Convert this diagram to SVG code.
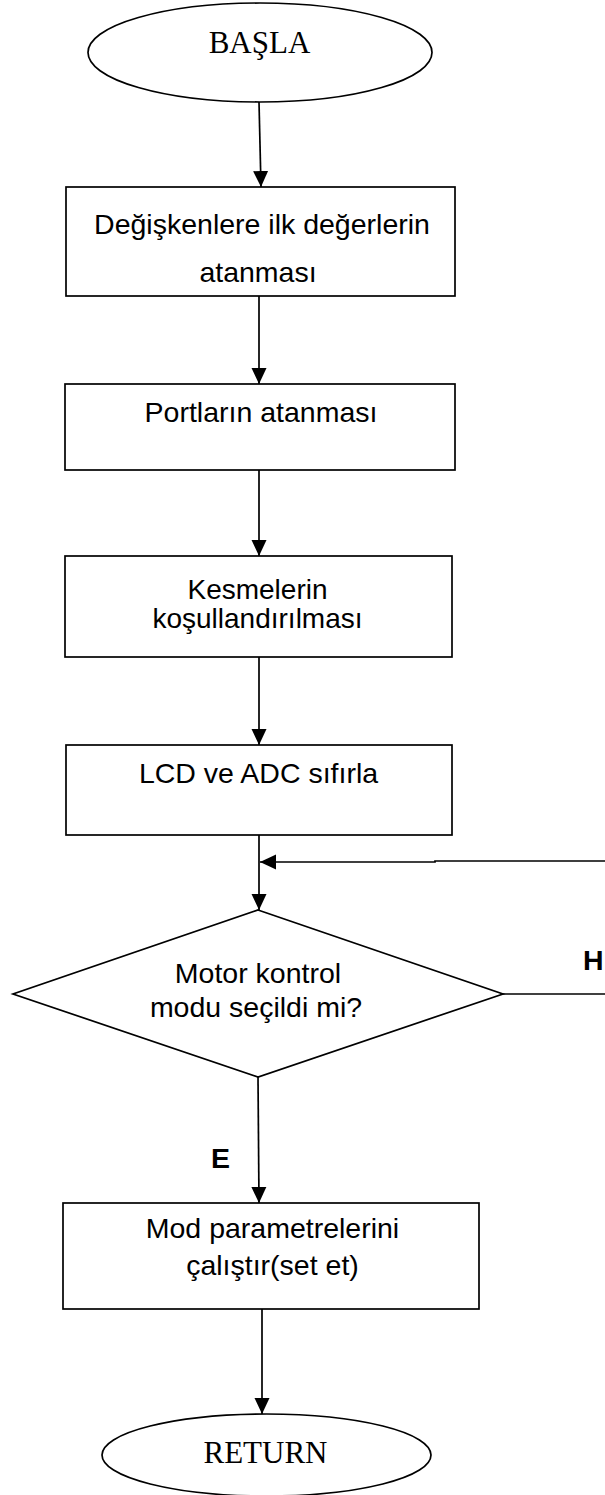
<svg xmlns="http://www.w3.org/2000/svg" width="605" height="1495" viewBox="0 0 605 1495">
<style>
.shape{fill:#fff;stroke:#000;stroke-width:1.7}
.line{fill:none;stroke:#000;stroke-width:1.7}
.t{font-family:"Liberation Sans",Arial,sans-serif;font-size:28.5px;fill:#000;text-anchor:middle}
.s{font-family:"Liberation Serif","Times New Roman",serif;font-size:31px;fill:#000;text-anchor:middle}
.b{font-family:"Liberation Sans",Arial,sans-serif;font-size:28.5px;font-weight:bold;fill:#000}
</style>
<defs>
<marker id="ah" markerUnits="userSpaceOnUse" markerWidth="18" markerHeight="18" viewBox="0 0 18 18" refX="16" refY="9" orient="auto">
<path d="M0,1.5 L16,9 L0,16.5 Z" fill="#000"/>
</marker>
</defs>
<rect width="605" height="1495" fill="#fff"/>
<g id="connectors">
<line class="line" x1="259" y1="102" x2="261" y2="187" marker-end="url(#ah)"/>
<line class="line" x1="259" y1="296" x2="259" y2="384" marker-end="url(#ah)"/>
<line class="line" x1="259" y1="470" x2="259" y2="556" marker-end="url(#ah)"/>
<line class="line" x1="259" y1="657" x2="259" y2="745" marker-end="url(#ah)"/>
<line class="line" x1="259" y1="835" x2="259" y2="910" marker-end="url(#ah)"/>
<polyline class="line" points="605,861 435,861 435,862 260,862" marker-end="url(#ah)"/>
<line class="line" x1="503" y1="994" x2="605" y2="994"/>
<line class="line" x1="258" y1="1077" x2="259" y2="1203" marker-end="url(#ah)"/>
<line class="line" x1="262" y1="1309" x2="262" y2="1414" marker-end="url(#ah)"/>
<text class="b" x="583" y="970">H</text>
<text class="b" x="211" y="1168">E</text>
</g>
<g id="start">
<ellipse class="shape" cx="260" cy="52.5" rx="172" ry="49.5"/>
<text class="s" x="259.5" y="53">BAŞLA</text>
</g>
<g id="init">
<rect class="shape" x="66" y="187" width="389" height="109"/>
<text class="t" x="262" y="234">Değişkenlere ilk değerlerin</text>
<text class="t" x="258" y="282">atanması</text>
</g>
<g id="ports">
<rect class="shape" x="65" y="384" width="390" height="86"/>
<text class="t" x="261" y="422">Portların atanması</text>
</g>
<g id="interrupts">
<rect class="shape" x="65" y="556" width="387" height="101"/>
<text class="t" x="257.5" y="599" style="font-size:28px">Kesmelerin</text>
<text class="t" x="257.5" y="628" style="font-size:28px">koşullandırılması</text>
</g>
<g id="reset">
<rect class="shape" x="66" y="745" width="386" height="90"/>
<text class="t" x="258.5" y="783">LCD ve ADC sıfırla</text>
</g>
<g id="decision">
<polygon class="shape" points="258,910 503,994 258,1077 13,994"/>
<text class="t" x="258" y="983">Motor kontrol</text>
<text class="t" x="256" y="1017">modu seçildi mi?</text>
</g>
<g id="setmode">
<rect class="shape" x="63" y="1203" width="416" height="106"/>
<text class="t" x="272.5" y="1238">Mod parametrelerini</text>
<text class="t" x="272.5" y="1275">çalıştır(set et)</text>
</g>
<g id="return">
<ellipse class="shape" cx="266.5" cy="1455" rx="164.5" ry="41"/>
<text class="s" x="265.5" y="1463">RETURN</text>
</g>
</svg>
